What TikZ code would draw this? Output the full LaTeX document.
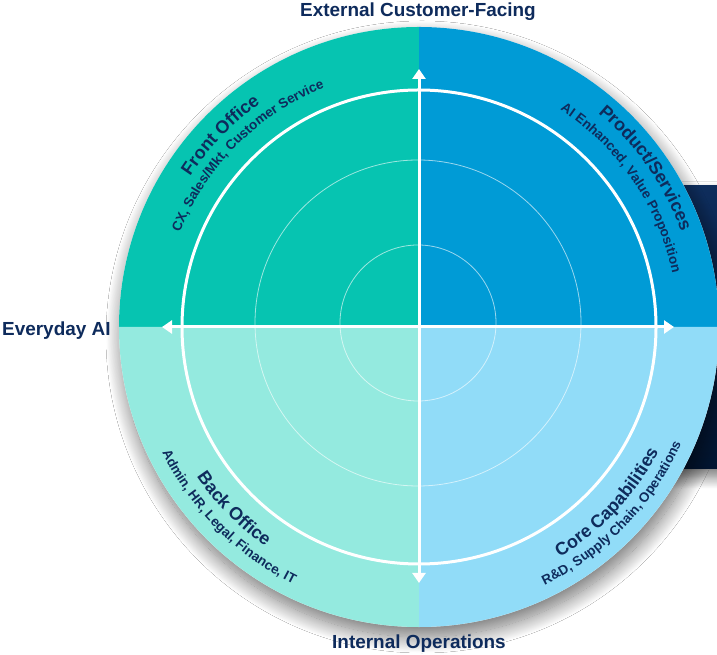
\documentclass[tikz,border=0pt]{standalone}
\usepackage{fontspec}
\setmainfont{Liberation Sans}
\usetikzlibrary{arrows.meta,decorations.text,shadows.blur}

\definecolor{frontteal}{HTML}{06C4B1}
\definecolor{prodblue}{HTML}{009BD6}
\definecolor{backteal}{HTML}{94EADF}
\definecolor{coreblue}{HTML}{91DCF8}
\definecolor{navytext}{HTML}{0E2B5C}
\definecolor{navytop}{HTML}{0E2D5C}
\definecolor{navybot}{HTML}{021530}

\newcommand\quadtitle{\bfseries\fontsize{18}{20}\selectfont\color{navytext}}
\newcommand\quadsub{\bfseries\fontsize{13.5}{15}\selectfont\color{navytext}}

\tikzset{
  axislabel/.style={font=\bfseries\fontsize{19}{22}\selectfont, text=navytext, inner sep=0pt},
  axisline/.style={draw=white, line width=3bp,
    {Triangle[width=13bp,length=10bp]}-{Triangle[width=13bp,length=10bp]}},
  ringline/.style={draw=white, line width=3bp},
  gridline/.style={draw=white, draw opacity=0.6, line width=0.8bp},
  arclabel/.style={decorate, decoration={text along path, text align=center, text={#1}}},
}

\begin{document}
\begin{tikzpicture}[x=1bp, y=1bp]
  \useasboundingbox (0,0) rectangle (717,655);
  \clip (0,0) rectangle (717,655);
  \fill[white] (0,0) rectangle (717,655);

  \coordinate (c) at (419,328);
  \coordinate (g) at (418,332);

  % navy panel behind the wheel
  \fill[top color=navytop, bottom color=navybot,
    blur shadow={shadow xshift=0bp, shadow yshift=-8bp, shadow blur radius=12bp,
      shadow blur steps=16, shadow opacity=55}]
    (640,186) rectangle (740,469);

  % wheel with shadow
  \fill[white, blur shadow={shadow xshift=3bp, shadow yshift=-10bp,
      shadow blur radius=16bp, shadow blur steps=24, shadow opacity=55}]
    (c) circle[radius=300bp];
  \fill[frontteal] (c) -- ++(90:300bp) arc[start angle=90, end angle=180, radius=300bp] -- cycle;
  \fill[prodblue] (c) -- ++(0:300bp) arc[start angle=0, end angle=90, radius=300bp] -- cycle;
  \fill[backteal] (c) -- ++(180:300bp) arc[start angle=180, end angle=270, radius=300bp] -- cycle;
  \fill[coreblue] (c) -- ++(270:300bp) arc[start angle=270, end angle=360, radius=300bp] -- cycle;

  % rings
  \draw[gridline] (g) circle[radius=78bp];
  \draw[gridline] (g) circle[radius=163bp];
  \draw[ringline] (c) circle[radius=237bp];

  % axes
  \coordinate (tipN) at (419,586);
  \coordinate (tipS) at (419,72);
  \coordinate (tipW) at (162,328);
  \coordinate (tipE) at (674,328);
  \draw[axisline] (tipS) -- (tipN);
  \draw[axisline] (tipW) -- (tipE);

  % quadrant labels
  \begin{scope}[shift={(c)}]
    \path[arclabel={|\quadtitle|Front Office}]
      (176:274bp) arc[start angle=176, end angle=96, radius=274bp];
    \path[arclabel={|\quadsub|CX, Sales/Mkt, Customer Service}]
      (175:257bp) arc[start angle=175, end angle=95, radius=257bp];
    \path[arclabel={|\quadtitle|Product/Services}]
      (85:279bp) arc[start angle=85, end angle=-15, radius=279bp];
    \path[arclabel={|\quadsub|AI Enhanced, Value Proposition}]
      (84:259bp) arc[start angle=84, end angle=-15, radius=259bp];
    \path[arclabel={|\quadtitle|Back Office}]
      (175:268bp) arc[start angle=175, end angle=274, radius=268bp];
    \path[arclabel={|\quadsub|Admin, HR, Legal, Finance, IT}]
      (175:286bp) arc[start angle=175, end angle=275, radius=286bp];
    \path[arclabel={|\quadtitle|Core Capabilities}]
      (267:270bp) arc[start angle=267, end angle=367, radius=270bp];
    \path[arclabel={|\quadsub|R{\&}D, Supply Chain, Operations}]
      (266:287bp) arc[start angle=266, end angle=366, radius=287bp];
  \end{scope}

  % axis labels
  \node[axislabel, anchor=base] (ext) at (418,638) {External Customer-Facing};
  \node[axislabel, anchor=base west] (everyday) at (2,319) {Everyday AI};
  \node[axislabel, anchor=base] (internal) at (419,6) {Internal Operations};
\end{tikzpicture}
\end{document}
